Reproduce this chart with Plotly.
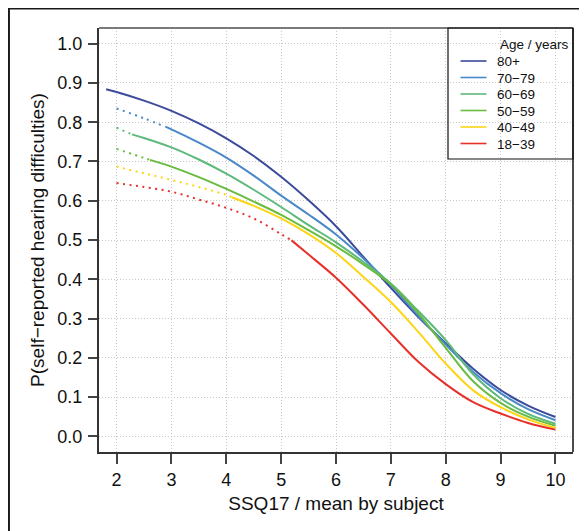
import plotly.graph_objects as go

# ---------------- data ----------------
x_grid = [2, 2.5, 3, 3.5, 4, 4.5, 5, 5.5, 6, 6.5, 7, 7.5, 8, 8.5, 9, 9.5, 10]

age_groups = ["80+", "70−79", "60−69", "50−59", "40−49", "18−39"]

p_80 = [0.877, 0.855, 0.829, 0.797, 0.759, 0.714, 0.661, 0.601, 0.535, 0.457, 0.378, 0.304, 0.237, 0.172, 0.118, 0.078, 0.049]
p_70 = [0.835, 0.810, 0.782, 0.748, 0.710, 0.664, 0.613, 0.565, 0.514, 0.453, 0.385, 0.307, 0.234, 0.164, 0.110, 0.069, 0.041]
p_60 = [0.786, 0.760, 0.736, 0.705, 0.669, 0.628, 0.584, 0.538, 0.494, 0.444, 0.389, 0.319, 0.245, 0.158, 0.097, 0.057, 0.032]
p_50 = [0.732, 0.709, 0.687, 0.660, 0.630, 0.598, 0.564, 0.525, 0.484, 0.438, 0.387, 0.313, 0.225, 0.140, 0.085, 0.050, 0.027]
p_40 = [0.687, 0.670, 0.653, 0.635, 0.615, 0.587, 0.555, 0.515, 0.467, 0.406, 0.342, 0.266, 0.185, 0.117, 0.074, 0.043, 0.021]
p_18 = [0.645, 0.635, 0.623, 0.603, 0.582, 0.555, 0.515, 0.463, 0.404, 0.335, 0.262, 0.190, 0.133, 0.087, 0.058, 0.034, 0.017]

# where the observed (solid) range of each group begins
start_x = [1.81, 2.9, 2.28, 2.61, 4.1, 5.19]
start_y = [0.884, 0.788, 0.769, 0.704, 0.609, 0.499]

x_ticks = [2, 3, 4, 5, 6, 7, 8, 9, 10]
y_ticks = [0.0, 0.1, 0.2, 0.3, 0.4, 0.5, 0.6, 0.7, 0.8, 0.9, 1.0]

series = [p_80, p_70, p_60, p_50, p_40, p_18]
colors = ["#3C4A9C", "#4A88C8", "#5DB97C", "#69BC3F", "#FDD515", "#E8302A"]

FONT = "Liberation Sans, Arial, Helvetica, sans-serif"

fig = go.Figure()

for name, ys, sx, sy, col in zip(age_groups, series, start_x, start_y, colors):
    # extrapolated (dotted) part
    dx = [x for x in x_grid if x < sx] + [sx]
    dy = [y for x, y in zip(x_grid, ys) if x < sx] + [sy]
    if len(dx) > 1:
        fig.add_trace(go.Scatter(x=dx, y=dy, mode="lines", showlegend=False,
                                 line=dict(color=col, width=2, dash="2px,4.5px", shape="spline"),
                                 hoverinfo="skip"))
    # observed (solid) part
    surv = [(x, y) for x, y in zip(x_grid, ys) if x > sx]
    fx = [sx] + [x for x, _ in surv]
    fy = [sy] + [y for _, y in surv]
    fig.add_trace(go.Scatter(x=fx, y=fy, mode="lines", name=name, showlegend=False,
                             line=dict(color=col, width=2, shape="spline")))

# ---------------- layout ----------------
# the page adds an 8 px body margin, so the figure is 8 px smaller and offset
OFF = 8
W, H = 587 - OFF, 531 - OFF
L, R, T, B = 99 - OFF, 14, 28 - OFF, 79
pw, ph = W - L - R, H - T - B

def px(xp):  # page x (reference pixels) -> paper
    return (xp - OFF - L) / pw

def py(yp):  # page y (reference pixels) -> paper
    return (H - B - (yp - OFF)) / ph

shapes = []
annotations = []

# plot box top (gray) and right (black)
shapes.append(dict(type="line", xref="paper", yref="paper", x0=0, x1=1, y0=1, y1=1,
                   line=dict(color="#7a7a7a", width=2)))
shapes.append(dict(type="line", xref="paper", yref="paper", x0=1, x1=1, y0=0, y1=1,
                   line=dict(color="#111111", width=1.5)))
# outer frame (left and top)
shapes.append(dict(type="line", xref="paper", yref="paper", x0=px(8.7), x1=px(8.7),
                   y0=py(545), y1=py(7.5), line=dict(color="#1a1a1a", width=2.5)))
shapes.append(dict(type="line", xref="paper", yref="paper", x0=px(7.5), x1=px(600),
                   y0=py(8.6), y1=py(8.6), line=dict(color="#1a1a1a", width=2)))

# legend box
shapes.append(dict(type="rect", xref="paper", yref="paper", x0=px(448), x1=1,
                   y0=py(159), y1=1, line=dict(color="#111111", width=1.2)))
annotations.append(dict(xref="paper", yref="paper", x=px(498), y=py(44.5), text="Age / years",
                        showarrow=False, xanchor="left", yanchor="middle",
                        font=dict(family=FONT, size=13.5, color="#111111")))
for i, (name, col) in enumerate(zip(age_groups, colors)):
    yy = 61 + i * 16.5
    shapes.append(dict(type="line", xref="paper", yref="paper", x0=px(460.5), x1=px(486.5),
                       y0=py(yy), y1=py(yy), line=dict(color=col, width=1.6)))
    annotations.append(dict(xref="paper", yref="paper", x=px(495), y=py(yy + 0.5), text=name,
                            showarrow=False, xanchor="left", yanchor="middle",
                            font=dict(family=FONT, size=13.5, color="#111111")))

fig.update_layout(
    width=W, height=H,
    margin=dict(l=L, r=R, t=T, b=B, pad=0),
    paper_bgcolor="white", plot_bgcolor="white",
    font=dict(family=FONT, color="#111111"),
    shapes=shapes, annotations=annotations,
    showlegend=False,
)

GRID = dict(showgrid=True, gridcolor="#c8c8c8", griddash="1px,2px", gridwidth=1)

fig.update_xaxes(
    range=[1.68, 10.32], tickvals=x_ticks, ticktext=[str(v) for v in x_ticks],
    zeroline=False, showline=True, linecolor="#333333", linewidth=2,
    ticks="outside", ticklen=10, tickwidth=1.5, tickcolor="#444444",
    tickfont=dict(family=FONT, size=18, color="#111111"),
    title=dict(text="SSQ17 / mean by subject", font=dict(family=FONT, size=19, color="#111111"),
               standoff=8),
    **GRID,
)
fig.update_yaxes(
    range=[-0.04, 1.04], tickvals=y_ticks, ticktext=[f"{v:.1f}" for v in y_ticks],
    zeroline=False, showline=True, linecolor="#333333", linewidth=2,
    ticks="outside", ticklen=9, tickwidth=1.5, tickcolor="#444444", ticklabelstandoff=2,
    tickfont=dict(family=FONT, size=18, color="#111111"),
    title=dict(text="P(self−reported hearing difficulties)",
               font=dict(family=FONT, size=19, color="#111111"), standoff=8),
    **GRID,
)

fig.write_html("out.html")
